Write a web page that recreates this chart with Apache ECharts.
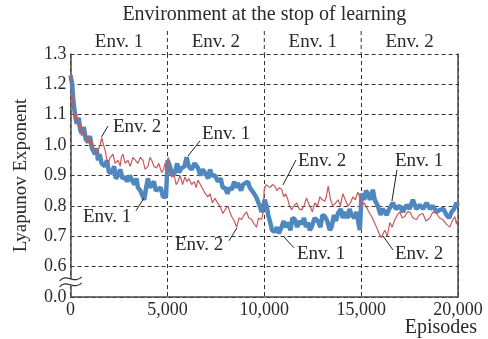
<!DOCTYPE html>
<html><head><meta charset="utf-8">
<script src="https://cdn.jsdelivr.net/npm/echarts@6/dist/echarts.min.js"></script>
<style>html,body{margin:0;padding:0;background:#fff}#c{width:488px;height:339px}</style>
</head><body><div id="c"></div>
<script>
// ---- data ----
const env1Episodes = [0,80,150,230,315,420,500,573,680,780,898,1000,1100,1259,1340,1414,1500,1600,1775,1880,1980,2136,2250,2330,2446,2560,2680,2807,2920,3050,3168,3300,3400,3478,3600,3736,3800,3900,3994,4100,4185,4300,4400,4510,4650,4768,4923,5010,5129,5250,5387,5500,5600,5733,5880,5991,6100,6249,6400,6574,6700,6800,6935,7100,7200,7281,7450,7606,7750,7850,7967,8100,8200,8313,8450,8550,8638,8800,8900,8999,9150,9250,9345,9480,9603,9700,9773,9850,9928,10020,10119,10200,10289,10400,10547,10650,10750,10893,11000,11100,11218,11350,11450,11579,11700,11800,11925,12050,12150,12250,12350,12441,12600,12766,12900,13000,13127,13250,13380,13473,13600,13700,13798,13950,14050,14159,14300,14400,14505,14650,14750,14830,14933,15021,15150,15250,15346,15450,15604,15700,15862,16000,16100,16223,16311,16450,16636,16800,16998,17150,17343,17500,17668,17850,18030,18200,18375,18550,18700,18900,19061,19250,19407,19550,19665,19800,19923,20000];
const env1Lyapunov = [1.23,1.20,1.14,1.10,1.07,1.09,1.05,1.04,1.06,1.02,1.01,1.03,0.99,0.97,0.99,0.95,0.97,0.94,0.93,0.95,0.91,0.91,0.93,0.89,0.90,0.92,0.89,0.895,0.88,0.90,0.885,0.87,0.89,0.86,0.85,0.83,0.82,0.86,0.89,0.86,0.87,0.88,0.85,0.855,0.86,0.83,0.83,0.95,0.93,0.90,0.91,0.94,0.91,0.925,0.93,0.96,0.93,0.92,0.94,0.925,0.90,0.92,0.91,0.89,0.92,0.90,0.90,0.88,0.89,0.86,0.86,0.84,0.86,0.853,0.88,0.86,0.875,0.85,0.87,0.87,0.88,0.86,0.855,0.84,0.826,0.81,0.80,0.78,0.79,0.82,0.80,0.77,0.75,0.72,0.715,0.73,0.71,0.73,0.75,0.73,0.745,0.72,0.76,0.755,0.73,0.75,0.74,0.76,0.73,0.745,0.72,0.73,0.76,0.75,0.73,0.77,0.765,0.75,0.72,0.73,0.77,0.75,0.775,0.79,0.76,0.78,0.76,0.79,0.77,0.76,0.78,0.755,0.72,0.84,0.82,0.85,0.84,0.82,0.853,0.82,0.80,0.77,0.79,0.78,0.77,0.79,0.81,0.79,0.80,0.78,0.803,0.79,0.82,0.79,0.803,0.79,0.81,0.79,0.80,0.78,0.787,0.79,0.77,0.76,0.78,0.79,0.81,0.80];

const env2Episodes = [0,70,139,227,300,397,500,560,655,760,850,913,1000,1080,1156,1250,1340,1429,1520,1605,1700,1775,1850,1930,2050,2188,2300,2446,2560,2620,2704,2820,2962,3080,3220,3350,3478,3600,3736,3850,3994,4100,4185,4300,4443,4550,4701,4800,4871,4960,5041,5120,5217,5350,5450,5542,5650,5780,5903,6000,6100,6249,6380,6480,6574,6700,6832,6950,7090,7200,7320,7451,7580,7709,7864,8000,8122,8220,8313,8450,8571,8700,8829,8950,9087,9200,9345,9480,9603,9700,9861,9940,9995,10100,10202,10300,10420,10547,10650,10760,10893,11000,11100,11218,11300,11409,11530,11667,11800,11925,12050,12183,12270,12353,12480,12611,12750,12869,13000,13127,13200,13298,13420,13540,13680,13813,13930,14055,14180,14313,14450,14571,14700,14830,14930,15021,15150,15279,15400,15537,15650,15795,15920,16053,16140,16223,16350,16481,16600,16739,16870,16998,17120,17256,17380,17514,17680,17859,18000,18184,18350,18545,18700,18891,19050,19216,19400,19578,19700,19836,19920,20000];
const env2Lyapunov = [1.23,1.17,1.12,1.08,1.10,1.06,1.07,1.03,1.04,1.05,1.01,1.02,1.00,1.02,0.995,1.00,0.97,0.985,1.00,1.025,1.00,0.985,0.96,0.94,0.96,0.97,0.94,0.95,0.93,0.96,0.97,0.94,0.95,0.93,0.96,0.95,0.94,0.96,0.95,0.92,0.93,0.96,0.95,0.93,0.925,0.94,0.91,0.92,0.94,0.92,0.96,0.92,0.895,0.90,0.87,0.88,0.90,0.87,0.895,0.88,0.89,0.87,0.88,0.86,0.885,0.87,0.855,0.84,0.83,0.84,0.81,0.825,0.81,0.80,0.775,0.79,0.80,0.78,0.765,0.75,0.73,0.76,0.755,0.77,0.78,0.76,0.755,0.74,0.73,0.76,0.755,0.78,0.855,0.87,0.875,0.86,0.87,0.865,0.85,0.86,0.855,0.83,0.84,0.82,0.80,0.787,0.80,0.81,0.79,0.787,0.80,0.826,0.81,0.80,0.78,0.81,0.80,0.83,0.82,0.815,0.83,0.865,0.82,0.80,0.81,0.82,0.80,0.84,0.82,0.80,0.81,0.83,0.82,0.845,0.83,0.80,0.81,0.795,0.78,0.765,0.75,0.73,0.71,0.695,0.71,0.72,0.70,0.745,0.73,0.755,0.77,0.78,0.76,0.765,0.78,0.78,0.76,0.755,0.77,0.775,0.75,0.76,0.78,0.775,0.76,0.755,0.74,0.73,0.75,0.765,0.74,0.76];

const yTicks = [0.5,0.6,0.7,0.8,0.9,1.0,1.1,1.2,1.3];       // 0.5 drawn as broken-axis "0.0"
const xTicks = [0, 5000, 10000, 15000, 20000];
const topEnvLabels = ['Env. 1','Env. 2','Env. 1','Env. 2'];
// annotations: text, text anchor [episode, value], leader from, leader to
const annotations = [
  ['Env. 2', [2189,1.060], [1931,1.063], [1595,1.027]],
  ['Env. 1', [6783,1.037], [6680,1.014], [6060,0.964]],
  ['Env. 1', [640,0.764],  [3376,0.784], [3789,0.826]],
  ['Env. 2', [5389,0.672], [8177,0.685], [8590,0.728]],
  ['Env. 2', [11738,0.948],[11635,0.951],[10964,0.869]],
  ['Env. 1', [16745,0.948],[16848,0.918],[16590,0.816]],
  ['Env. 1', [11687,0.642],[11532,0.662],[10964,0.701]],
  ['Env. 2', [16745,0.642],[16642,0.655],[16126,0.701]]
];

const FONT = '"Liberation Serif","Times New Roman",serif';
const TXT = '#2a2a2a';
const AX = '#4a4a4a';
const zip = (a, b) => a.map((v, i) => [v, b[i]]);

const chart = echarts.init(document.getElementById('c'), null, {renderer: 'canvas'});
chart.setOption({
  animation: false,
  backgroundColor: '#fff',
  grid: {left: 70.6, right: 30, top: 54, bottom: 42, containLabel: false},
  xAxis: {
    type: 'value', min: xTicks[0], max: xTicks[xTicks.length-1], interval: 5000,
    axisLine: {lineStyle: {color: AX, width: 1.5}},
    axisTick: {show: false},
    axisLabel: {color: TXT, fontFamily: FONT, fontSize: 18, margin: 4,
      formatter: v => v === 0 ? '0' : String(v).replace(/\B(?=(\d{3})+(?!\d))/g, ',')},
    splitLine: {show: true, lineStyle: {color: '#333', width: 1, type: [4, 3]}}
  },
  yAxis: [{
    type: 'value', min: yTicks[0], max: yTicks[yTicks.length-1], interval: 0.1,
    name: 'Lyapunov Exponent', nameLocation: 'middle', nameGap: 40,
    nameTextStyle: {color: TXT, fontFamily: FONT, fontSize: 19},
    axisLine: {show: true, lineStyle: {color: AX, width: 1.5}},
    axisTick: {show: false},
    axisLabel: {color: TXT, fontFamily: FONT, fontSize: 18, margin: 4,
      formatter: v => v < 0.55 ? '0.0' : v.toFixed(1)},
    splitLine: {show: true, lineStyle: {color: '#333', width: 1, type: [4, 3]}}
  }, {
    type: 'value', position: 'right', min: yTicks[0], max: yTicks[yTicks.length-1], interval: 0.1,
    axisLine: {show: true, lineStyle: {color: AX, width: 1.5}},
    axisTick: {show: false}, axisLabel: {show: false}, splitLine: {show: false}
  }],
  series: [{
    name: 'Env. 1', type: 'line', data: zip(env1Episodes, env1Lyapunov), showSymbol: false,
    lineStyle: {color: '#4f87bf', width: 4.5}, z: 2
  }, {
    name: 'Env. 2', type: 'line', data: zip(env2Episodes, env2Lyapunov), showSymbol: false,
    lineStyle: {color: '#c85a5c', width: 1.2}, z: 3
  }]
});

const P = (ep, v) => chart.convertToPixel({gridIndex: 0}, [ep, v]);
const g = [];
const text = (t, x, y, size, align, valign, extra) => Object.assign({
  type: 'text', z: 100, style: {text: t, x, y, fill: TXT, font: size + 'px ' + FONT,
    textAlign: align, textVerticalAlign: valign}}, extra || {});

const topY = P(0, 1.3)[1];
const midX = (P(0, 1)[0] + P(20000, 1)[0]) / 2;
g.push(text('Environment at the stop of learning', midX, 15, 20, 'center', 'middle'));
topEnvLabels.forEach((t, i) => {
  g.push(text(t, P(2500 + 5000 * i, 1)[0], 42, 19, 'center', 'middle'));
});
[5000, 10000, 15000].forEach(ep => {
  const x = P(ep, 1)[0];
  g.push({type: 'line', z: 100, shape: {x1: x, y1: 31, x2: x, y2: topY},
    style: {stroke: '#333', lineWidth: 1, lineDash: [4, 3]}});
});
annotations.forEach(a => {
  const tp = P(a[1][0], a[1][1]), f = P(a[2][0], a[2][1]), t = P(a[3][0], a[3][1]);
  g.push(text(a[0], tp[0], tp[1], 19, 'left', 'middle', {z: 101}));
  g.push({type: 'line', z: 101, shape: {x1: f[0], y1: f[1], x2: t[0], y2: t[1]},
    style: {stroke: '#222', lineWidth: 1}});
});
// broken axis marker
const b = P(0, 0.55);
g.push({type: 'rect', z: 90, shape: {x: b[0] - 3, y: b[1] - 3, width: 6, height: 7}, style: {fill: '#fff'}});
[-3, 3].forEach(d => {
  g.push({type: 'bezierCurve', z: 91, shape: {
    x1: b[0] - 11, y1: b[1] + d + 2, cpx1: b[0] - 4, cpy1: b[1] + d - 6,
    cpx2: b[0] + 4, cpy2: b[1] + d + 6, x2: b[0] + 11, y2: b[1] + d - 2},
    style: {stroke: '#333', lineWidth: 1.2, fill: null}});
});
const endX = P(20000, 0.5)[0];
g.push(text('Episodes', endX + 19, 328, 20, 'right', 'middle'));
chart.setOption({graphic: g});
</script></body></html>
